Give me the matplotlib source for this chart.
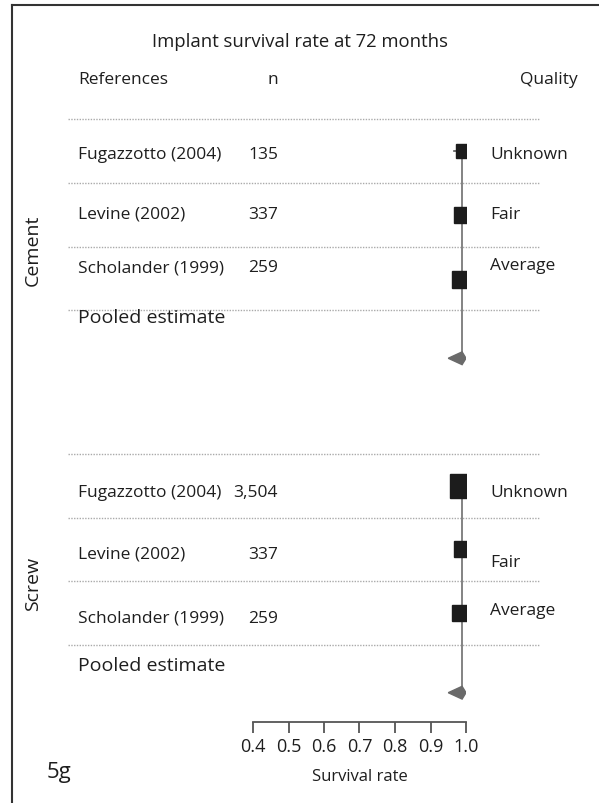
import matplotlib
matplotlib.use("Agg")
import matplotlib.pyplot as plt
from matplotlib.transforms import blended_transform_factory
from matplotlib.patches import Polygon

plt.rcParams['font.family'] = ['Open Sans', 'DejaVu Sans']

# ---- data -------------------------------------------------------------
groups = ["Cement", "Screw"]
studies = ["Fugazzotto (2004)", "Levine (2002)", "Scholander (1999)"]
quality = ["Unknown", "Fair", "Average"]
n_cement = ["135", "337", "259"]
n_screw = ["3,504", "337", "259"]
est_cement = [0.991, 0.989, 0.983]
lo_cement = [0.965, 0.975, 0.970]
hi_cement = [0.998, 0.997, 0.994]
est_screw = [0.989, 0.989, 0.983]
lo_screw = [0.985, 0.975, 0.970]
hi_screw = [0.993, 0.997, 0.994]
pooled_cement = (0.989, 0.950, 1.000)   # estimate, lower, upper
pooled_screw = (0.989, 0.950, 1.000)
weight_cement = [14, 16, 17]   # relative square size
weight_screw = [24, 16, 16]
xticks = [0.4, 0.5, 0.6, 0.7, 0.8, 0.9, 1.0]

# ---- layout -----------------------------------------------------------
W, H = 599, 804
fig = plt.figure(figsize=(W / 100, H / 100), dpi=100)
TXT = "#1e1e1e"
FS = 12.5


def fx(px):
    return px / W


def fy(py):
    return 1 - py / H


ax = fig.add_axes([fx(253), fy(723), fx(466) - fx(253), fy(100) - fy(723)])
ax.set_xlim(0.4, 1.0)
ax.set_ylim(8.96, -0.82)
for s in ["top", "right", "left"]:
    ax.spines[s].set_visible(False)
ax.spines["bottom"].set_color("#555555")
ax.spines["bottom"].set_linewidth(1.3)
ax.set_yticks([])
ax.set_xticks(xticks)
ax.set_xticklabels([f"{t:.1f}" for t in xticks])
ax.tick_params(axis="x", direction="out", length=8, width=1.3, color="#555555",
               labelsize=13, labelcolor=TXT, pad=3)
ax.set_xlabel("Survival rate", fontsize=12, color=TXT, labelpad=9)

tr_fx = blended_transform_factory(fig.transFigure, ax.transData)

rows = {"Cement": [0, 1, 2], "Screw": [5.25, 6.25, 7.25]}
pooled_row = {"Cement": 3.25, "Screw": 8.5}
seps = {"Cement": [-0.5, 0.5, 1.5, 2.5], "Screw": [4.75, 5.75, 6.75, 7.75]}
label_rows = {"Cement": [0.05, 0.98, 1.82], "Screw": [5.35, 6.32, 7.32]}
qual_rows = {"Cement": [0.05, 0.98, 1.78], "Screw": [5.35, 6.45, 7.2]}
pooled_text_row = {"Cement": 2.6, "Screw": 8.07}
group_mid = {"Cement": 1.54, "Screw": 6.77}

data = {
    "Cement": (n_cement, est_cement, lo_cement, hi_cement, pooled_cement, weight_cement),
    "Screw": (n_screw, est_screw, lo_screw, hi_screw, pooled_screw, weight_screw),
}

for g in groups:
    ns, est, lo, hi, pooled, wts = data[g]
    # dotted separators
    for y in seps[g]:
        ax.plot([fx(68), fx(540)], [y, y], transform=tr_fx, color="#aaaaaa",
                lw=1.0, ls=(0, (1, 1)), clip_on=False)
    # reference line at pooled estimate
    ax.plot([pooled[0], pooled[0]], [rows[g][0], pooled_row[g]],
            color="#7a7a7a", lw=1.3, zorder=2)
    # study estimates
    for r, e, l, h, w in zip(rows[g], est, lo, hi, wts):
        ax.plot([l, h], [r, r], color="#555555", lw=1.2, zorder=2)
        ax.plot(e, r, marker="s", ms=w * 0.72, color="#1c1c1c",
                mec="#1c1c1c", zorder=3)
    # pooled diamond
    pr = pooled_row[g]
    dh = 0.1
    ax.add_patch(Polygon([(pooled[1], pr), (pooled[0], pr - dh),
                          (pooled[2], pr), (pooled[0], pr + dh)],
                         closed=True, facecolor="#6a6a6a", edgecolor="#6a6a6a",
                         zorder=3))
    # text columns
    for name, n, q, ly, qy in zip(studies, ns, quality, label_rows[g], qual_rows[g]):
        ax.text(fx(78), ly, name, transform=tr_fx, ha="left", va="center",
                fontsize=FS, color=TXT)
        ax.text(fx(278), ly, n, transform=tr_fx, ha="right", va="center",
                fontsize=FS, color=TXT)
        ax.text(fx(490), qy, q, transform=tr_fx, ha="left", va="center",
                fontsize=FS, color=TXT)
    ax.text(fx(78), pooled_text_row[g], "Pooled estimate", transform=tr_fx,
            ha="left", va="center", fontsize=14, color=TXT)
    ax.text(fx(33), group_mid[g], g, transform=tr_fx, ha="center", va="center",
            rotation=90, fontsize=14, color=TXT)

# headers
fig.text(fx(300), fy(42), "Implant survival rate at 72 months", ha="center",
         va="center", fontsize=13.3, color=TXT)
fig.text(fx(78), fy(80), "References", ha="left", va="center", fontsize=FS,
         color=TXT)
fig.text(fx(278), fy(80), "n", ha="right", va="center", fontsize=FS,
         color=TXT)
fig.text(fx(578), fy(80), "Quality", ha="right", va="center", fontsize=FS,
         color=TXT)
fig.text(fx(47), fy(773), "5g", ha="left", va="center", fontsize=16,
         color=TXT)

# panel frame (top and left edges)
fig.add_artist(plt.Line2D([fx(12), 1], [fy(6), fy(6)], color="#333333", lw=1.5,
                          transform=fig.transFigure))
fig.add_artist(plt.Line2D([fx(12), fx(12)], [fy(6), 0], color="#333333", lw=1.5,
                          transform=fig.transFigure))

fig.savefig("out.png", dpi=100)
